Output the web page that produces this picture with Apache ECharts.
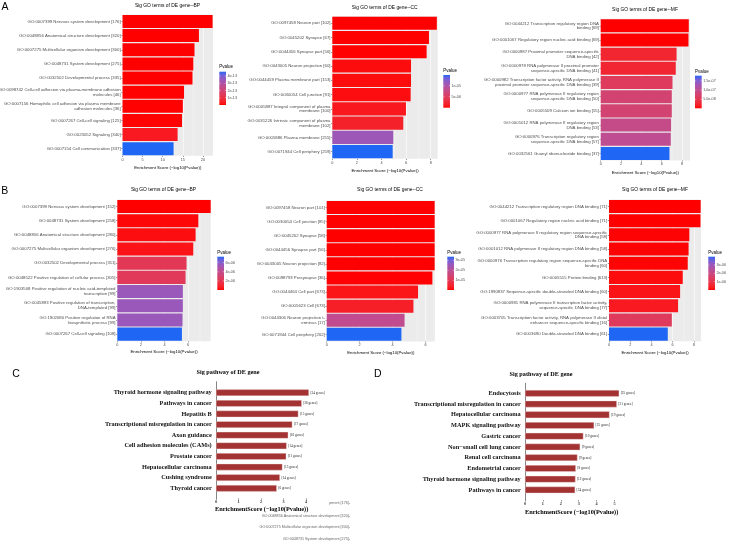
<!DOCTYPE html>
<html><head><meta charset="utf-8">
<script src="https://cdn.jsdelivr.net/npm/echarts@6/dist/echarts.min.js"></script>
<style>html,body{margin:0;padding:0;background:#fff}#c{width:729px;height:549px}</style>
</head><body><div id="c"></div>
<script>
// ---------------- DATA ----------------
const aBpTerms = [
  'GO:0007399 Nervous system development [176]',
  'GO:0048856 Anatomical structure development [320]',
  'GO:0007275 Multicellular organism development [300]',
  'GO:0048731 System development [275]',
  'GO:0032502 Developmental process [335]',
  'GO:0098742 Cell-cell adhesion via plasma-membrane adhesion\nmolecules [46]',
  'GO:0007156 Homophilic cell adhesion via plasma membrane\nadhesion molecules [36]',
  'GO:0007267 Cell-cell signaling [125]',
  'GO:0023052 Signaling [340]',
  'GO:0007154 Cell communication [337]'
];
const aBpScore = [22.4, 19.0, 17.9, 17.6, 17.4, 15.3, 15.0, 14.8, 13.7, 12.7];
const aBpP = [4e-23, 1e-19, 1.3e-18, 2.5e-18, 4e-18, 5e-16, 1e-15, 1.6e-15, 3.5e-14, 4.6e-13];
const aBpTicks = [0, 5, 10, 15, 20];
const aBpLegend = [4e-13, 3e-13, 2e-13, 1e-13];
const aBpLegendText = ['4e-13', '3e-13', '2e-13', '1e-13'];

const aCcTerms = [
  'GO:0097458 Neuron part [102]',
  'GO:0045202 Synapse [67]',
  'GO:0044456 Synapse part [56]',
  'GO:0043005 Neuron projection [60]',
  'GO:0044459 Plasma membrane part [153]',
  'GO:0030054 Cell junction [91]',
  'GO:0005887 Integral component of plasma\nmembrane [100]',
  'GO:0031226 Intrinsic component of plasma\nmembrane [102]',
  'GO:0005886 Plasma membrane [255]',
  'GO:0071944 Cell periphery [259]'
];
const aCcScore = [8.5, 7.86, 7.67, 6.4, 6.4, 6.37, 5.99, 5.77, 4.96, 4.91];
const aCcP = [3e-9, 1.4e-8, 2.1e-8, 4e-7, 4e-7, 4.3e-7, 1.0e-6, 1.7e-6, 1.1e-5, 1.49e-5];
const aCcTicks = [0, 2, 4, 6, 8];
const aCcLegend = [1e-5, 5e-6];
const aCcLegendText = ['1e-05', '5e-06'];

const aMfTerms = [
  'GO:0044212 Transcription regulatory region DNA\nbinding [69]',
  'GO:0001067 Regulatory region nucleic acid binding [69]',
  'GO:0000987 Proximal promoter sequence-specific\nDNA binding [42]',
  'GO:0000978 RNA polymerase II proximal promoter\nsequence-specific DNA binding [41]',
  'GO:0000982 Transcription factor activity, RNA polymerase II\nproximal promoter sequence-specific DNA binding [39]',
  'GO:0000977 RNA polymerase II regulatory region\nsequence-specific DNA binding [50]',
  'GO:0005509 Calcium ion binding [55]',
  'GO:0001012 RNA polymerase II regulatory region\nDNA binding [53]',
  'GO:0000976 Transcription regulatory region\nsequence-specific DNA binding [57]',
  'GO:0032561 Guanyl ribonucleotide binding [37]'
];
const aMfScore = [8.66, 8.63, 7.46, 7.38, 7.06, 6.99, 6.99, 6.92, 6.89, 6.76];
const aMfP = [2.2e-9, 2.3e-9, 2.7e-8, 2.8e-8, 6.1e-8, 7.8e-8, 7.8e-8, 9.5e-8, 1.03e-7, 1.78e-7];
const aMfTicks = [0, 2, 4, 6, 8];
const aMfLegend = [1.5e-7, 1.0e-7, 5.0e-8];
const aMfLegendText = ['1.5e-07', '1.0e-07', '5.0e-08'];

const bBpTerms = [
  'GO:0007399 Nervous system development [152]',
  'GO:0048731 System development [258]',
  'GO:0048856 Anatomical structure development [280]',
  'GO:0007275 Multicellular organism development [276]',
  'GO:0032502 Developmental process [311]',
  'GO:0048522 Positive regulation of cellular process [305]',
  'GO:1903508 Positive regulation of nucleic acid-templated\ntranscription [99]',
  'GO:0045893 Positive regulation of transcription,\nDNA-templated [99]',
  'GO:1902680 Positive regulation of RNA\nbiosynthetic process [99]',
  'GO:0007267 Cell-cell signaling [108]'
];
const bBpScore = [7.93, 6.87, 6.64, 6.44, 5.87, 5.79, 5.56, 5.56, 5.53, 5.48];
const bBpP = [1.2e-8, 1.3e-7, 2.3e-7, 3.6e-7, 2.2e-6, 2.3e-6, 5.5e-6, 5.5e-6, 5.5e-6, 7.3e-6];
const bBpTicks = [0, 2, 4, 6];
const bBpLegend = [6e-6, 4e-6, 2e-6];
const bBpLegendText = ['6e-06', '4e-06', '2e-06'];

const bCcTerms = [
  'GO:0097458 Neuron part [101]',
  'GO:0030054 Cell junction [85]',
  'GO:0045202 Synapse [58]',
  'GO:0044456 Synapse part [56]',
  'GO:0043005 Neuron projection [82]',
  'GO:0098793 Presynapse [36]',
  'GO:0044464 Cell part [673]',
  'GO:0005623 Cell [673]',
  'GO:0044306 Neuron projection t-\nerminus [17]',
  'GO:0071944 Cell periphery [262]'
];
const bCcScore = [6.56, 6.56, 6.56, 6.56, 6.56, 6.42, 5.55, 5.27, 4.73, 4.54];
const bCcP = [2.8e-7, 2.8e-7, 2.8e-7, 2.8e-7, 2.8e-7, 3.8e-7, 2.0e-6, 3.7e-6, 1.9e-5, 3.38e-5];
const bCcTicks = [0, 2, 4, 6];
const bCcLegend = [3e-5, 2e-5, 1e-5];
const bCcLegendText = ['3e-05', '2e-05', '1e-05'];

const bMfTerms = [
  'GO:0044212 Transcription regulatory region DNA binding [71]',
  'GO:0001067 Regulatory region nucleic acid binding [71]',
  'GO:0000977 RNA polymerase II regulatory region sequence-specific\nDNA binding [58]',
  'GO:0001012 RNA polymerase II regulatory region DNA binding [58]',
  'GO:0000976 Transcription regulatory region sequence-specific DNA\nbinding [60]',
  'GO:0005515 Protein binding [613]',
  'GO:1990837 Sequence-specific double-stranded DNA binding [60]',
  'GO:0000981 RNA polymerase II transcription factor activity,\nsequence-specific DNA binding [77]',
  'GO:0003705 Transcription factor activity, RNA polymerase II distal\nenhancer sequence-specific binding [16]',
  'GO:0003690 Double-stranded DNA binding [61]'
];
const bMfScore = [8.64, 8.62, 7.57, 7.5, 7.42, 6.95, 6.7, 6.51, 5.92, 5.54];
const bMfP = [2.3e-9, 2.4e-9, 2.7e-8, 3.2e-8, 3.8e-8, 1.1e-7, 2.0e-7, 3.1e-7, 1.3e-6, 4.0e-6];
const bMfTicks = [0, 2, 4, 6, 8];
const bMfLegend = [3e-6, 2e-6, 1e-6];
const bMfLegendText = ['3e-06', '2e-06', '1e-06'];

const cNames = ['Thyroid hormone signaling pathway', 'Pathways in cancer', 'Hepatitis B',
  'Transcriptional misregulation in cancer', 'Axon guidance', 'Cell adhesion molecules (CAMs)',
  'Prostate cancer', 'Hepatocellular carcinoma', 'Cushing syndrome', 'Thyroid cancer'];
const cScore = [4.13, 3.81, 3.66, 3.39, 3.21, 3.14, 3.12, 2.95, 2.84, 2.70];
const cGenes = [34, 36, 15, 17, 16, 14, 11, 15, 14, 6];
const cTicks = [0, 1, 2, 3, 4];

const dNames = ['Endocytosis', 'Transcriptional misregulation in cancer', 'Hepatocellular carcinoma',
  'MAPK signaling pathway', 'Gastric cancer', 'Non\u2212small cell lung cancer', 'Renal cell carcinoma',
  'Endometrial cancer', 'Thyroid hormone signaling pathway', 'Pathways in cancer'];
const dScore = [5.26, 5.13, 4.72, 3.86, 3.26, 3.08, 2.93, 2.84, 2.82, 2.80];
const dGenes = [25, 21, 19, 25, 10, 9, 9, 8, 12, 34];
const dTicks = [0, 1, 2, 3, 4, 5];

const strayTexts = ['pment [176]-', 'GO:0048856 Anatomical structure development [320]-',
  'GO:0007275 Multicellular organism development [300]-', 'GO:0048731 System development [275]-'];

// ---------------- STYLE / HELPERS ----------------
const SANS = '"Liberation Sans", Arial, sans-serif';
const SERIF = '"Liberation Serif", "Times New Roman", serif';
const LOW = '#FF0000', HIGH = '#1F66F4';
function hex2rgb(h){return [1,3,5].map(i=>parseInt(h.substr(i,2),16));}
function lin(c){c/=255;return c<=0.04045?c/12.92:Math.pow((c+0.055)/1.055,2.4);}
function unlin(c){c=c<=0.0031308?12.92*c:1.055*Math.pow(c,1/2.4)-0.055;return Math.round(Math.min(1,Math.max(0,c))*255);}
const Xn=0.95047,Yn=1,Zn=1.08883;
function ff(t){return t>0.008856?Math.cbrt(t):7.787*t+16/116;}
function fi(t){return t>0.206893?t*t*t:(t-16/116)/7.787;}
function rgb2lab(rgb){const [r,g,b]=rgb.map(lin);const X=0.4124*r+0.3576*g+0.1805*b,Y=0.2126*r+0.7152*g+0.0722*b,Z=0.0193*r+0.1192*g+0.9505*b;const fx=ff(X/Xn),fy=ff(Y/Yn),fz=ff(Z/Zn);return [116*fy-16,500*(fx-fy),200*(fy-fz)];}
function lab2rgb(l){const fy=(l[0]+16)/116,fx=fy+l[1]/500,fz=fy-l[2]/200;const X=Xn*fi(fx),Y=Yn*fi(fy),Z=Zn*fi(fz);const r=3.2406*X-1.5372*Y-0.4986*Z,g=-0.9689*X+1.8758*Y+0.0415*Z,b=0.0557*X-0.2040*Y+1.0570*Z;return 'rgb('+unlin(r)+','+unlin(g)+','+unlin(b)+')';}
const LLO=rgb2lab(hex2rgb(LOW)), LHI=rgb2lab(hex2rgb(HIGH));
function grad(t){t=Math.max(0,Math.min(1,t));return lab2rgb(LLO.map((v,i)=>v+(LHI[i]-v)*t));}

const grids=[], xAxes=[], yAxes=[], series=[], graphics=[];
function txt(x,y,text,size,opts){
  opts=opts||{};
  graphics.push({type:'text',x:x,y:y,silent:true,style:Object.assign({text:text,fontSize:size,fontFamily:opts.family||SANS,fontWeight:opts.weight||'normal',fill:opts.fill||'#000',align:opts.align||'left',verticalAlign:'middle',textAlign:opts.align||'left',textVerticalAlign:'middle'},{})});
}

function goPanel(P){
  const idx=grids.length;
  const pmin=Math.min(...P.p), pmax=Math.max(...P.p);
  grids.push({left:P.g[0],top:P.g[1],width:P.g[2],height:P.g[3],show:true,backgroundColor:'#EBEBEB',borderWidth:0,containLabel:false,outerBoundsMode:'none'});
  xAxes.push({gridIndex:idx,type:'value',min:0,max:P.max,
    name:'Enrichment Score (\u2212log10(Pvalue))',nameLocation:'middle',nameGap:P.nameGap,
    nameTextStyle:{fontFamily:SANS,fontSize:4.3,color:'#000'},
    axisLine:{show:false},
    axisTick:{show:true,length:1.2,lineStyle:{color:'#333',width:0.5},customValues:P.ticks},
    axisLabel:{customValues:P.ticks,fontFamily:SANS,fontSize:3.8,color:'#4D4D4D',margin:1.8},
    splitLine:{show:true,lineStyle:{color:'#fff',width:0.6}},
    minorTick:{show:false,splitNumber:2},
    minorSplitLine:{show:true,lineStyle:{color:'#fff',width:0.3}}});
  yAxes.push({gridIndex:idx,type:'category',inverse:true,data:P.terms,
    axisLine:{show:false},
    axisTick:{show:true,alignWithLabel:true,length:1.2,lineStyle:{color:'#333',width:0.5}},
    axisLabel:{interval:0,fontFamily:SANS,fontSize:4.3,lineHeight:4.9,color:'#4D4D4D',margin:1.8,align:'right'},
    splitLine:{show:false}});
  series.push({type:'bar',xAxisIndex:idx,yAxisIndex:idx,barCategoryGap:'8%',silent:true,
    data:P.score.map((v,i)=>({value:v,itemStyle:{color:grad((P.p[i]-pmin)/(pmax-pmin))}}))});
  // title
  txt(P.title[0],P.title[1],'Sig GO terms of DE gene--'+P.kind,4.9,{align:'center'});
  // legend colourbar
  const L=P.leg, w=6.7;
  txt(L.x,L.ty,'Pvalue',4.5);
  const stops=[];
  for(let k=0;k<=20;k++){stops.push({offset:k/20,color:grad(1-k/20)});}
  graphics.push({type:'rect',silent:true,shape:{x:L.x,y:L.top,width:w,height:L.bottom-L.top},
    style:{fill:{type:'linear',x:0,y:0,x2:0,y2:1,colorStops:stops}}});
  P.legVals.forEach((v,i)=>{
    const y=L.bottom-(v-pmin)/(pmax-pmin)*(L.bottom-L.top);
    graphics.push({type:'line',silent:true,shape:{x1:L.x,y1:y,x2:L.x+1.3,y2:y},style:{stroke:'#fff',lineWidth:0.4}});
    graphics.push({type:'line',silent:true,shape:{x1:L.x+w-1.3,y1:y,x2:L.x+w,y2:y},style:{stroke:'#fff',lineWidth:0.4}});
    txt(L.x+w+1.5,y,P.legText[i],3.7,{fill:'#4D4D4D'});
  });
}

function pathPanel(P){
  const idx=grids.length;
  grids.push({left:P.g[0],top:P.g[1],width:P.g[2],height:P.g[3],show:false,containLabel:false,outerBoundsMode:'none'});
  xAxes.push({gridIndex:idx,type:'value',min:0,max:P.max,offset:P.offset,
    axisLine:{show:false},
    axisTick:{show:true,length:1.5,lineStyle:{color:'#333',width:0.5},customValues:P.ticks},
    axisLabel:{customValues:P.ticks,fontFamily:SERIF,fontWeight:'bold',fontSize:4.2,color:'#333',margin:1.6},
    splitLine:{show:false}});
  yAxes.push({gridIndex:idx,type:'category',inverse:true,data:P.names,
    axisLine:{show:false},axisTick:{show:false},
    axisLabel:{interval:0,fontFamily:SERIF,fontWeight:'bold',fontSize:6.3,color:'#111',margin:4.3},
    splitLine:{show:false}});
  series.push({type:'bar',xAxisIndex:idx,yAxisIndex:idx,barCategoryGap:'38%',silent:true,data:P.score,
    itemStyle:{color:'#A33232',borderColor:'#f2dede',borderWidth:0.4},
    label:{show:true,position:'right',distance:1.5,formatter:p=>'['+P.genes[p.dataIndex]+' genes]',
      fontFamily:SERIF,fontSize:3.4,color:'#222'}});
  // separate axis carrying the longer vertical axis line
  const j=grids.length;
  grids.push({left:P.g[0],top:P.axisTop,width:10,height:P.axisBottom-P.axisTop,show:false,containLabel:false,outerBoundsMode:'none'});
  xAxes.push({gridIndex:j,type:'value',show:false});
  yAxes.push({gridIndex:j,type:'value',axisLine:{show:true,onZero:false,lineStyle:{color:'#333',width:0.6}},
    axisTick:{show:false},axisLabel:{show:false},splitLine:{show:false}});
  txt(P.title[0],P.title[1],'Sig pathway of DE gene',6.2,{align:'center',family:SERIF,weight:'bold'});
  txt(P.xt[0],P.xt[1],'EnrichmentScore (\u2212log10(Pvalue))',6.3,{align:'center',family:SERIF,weight:'bold'});
}

goPanel({kind:'BP',terms:aBpTerms,score:aBpScore,p:aBpP,ticks:aBpTicks,g:[122.5,14.4,90.5,141.4],max:22.5,nameGap:10.4,
  title:[167.5,5.2],leg:{x:219.3,ty:66.7,top:71.7,bottom:105},legVals:aBpLegend,legText:aBpLegendText});
goPanel({kind:'CC',terms:aCcTerms,score:aCcScore,p:aCcP,ticks:aCcTicks,g:[332.3,16.1,105.4,142.7],max:8.57,nameGap:10,
  title:[384.7,7.3],leg:{x:443.3,ty:71,top:75,bottom:107.7},legVals:aCcLegend,legText:aCcLegendText});
goPanel({kind:'MF',terms:aMfTerms,score:aMfScore,p:aMfP,ticks:aMfTicks,g:[600.7,18.7,89.3,141.8],max:8.78,nameGap:10.7,
  title:[645,9.3],leg:{x:695,ty:72,top:75.7,bottom:108.3},legVals:aMfLegend,legText:aMfLegendText});
goPanel({kind:'BP',terms:bBpTerms,score:bBpScore,p:bBpP,ticks:bBpTicks,g:[117.3,199.4,93.4,141.8],max:7.92,nameGap:8.4,
  title:[163.5,190],leg:{x:217.3,ty:252.7,top:256.7,bottom:290},legVals:bBpLegend,legText:bBpLegendText});
goPanel({kind:'CC',terms:bCcTerms,score:bCcScore,p:bCcP,ticks:bCcTicks,g:[326.7,200.4,108.3,141],max:6.58,nameGap:9.5,
  title:[390,190],leg:{x:447.3,ty:252.7,top:256.7,bottom:290},legVals:bCcLegend,legText:bCcLegendText});
goPanel({kind:'MF',terms:bMfTerms,score:bMfScore,p:bMfP,ticks:bMfTicks,g:[609,199.4,92,141.8],max:8.67,nameGap:9.7,
  title:[655,190],leg:{x:708.3,ty:252.7,top:256.7,bottom:290},legVals:bMfLegend,legText:bMfLegendText});

pathPanel({names:cNames,score:cScore,genes:cGenes,ticks:cTicks,g:[216,387.4,99,106.2],max:4.4,offset:4.7,
  axisTop:381.7,axisBottom:498.3,title:[228,372.7],xt:[261.7,509.3]});
pathPanel({names:dNames,score:dScore,genes:dGenes,ticks:dTicks,g:[525,387.9,98.45,107.4],max:5.5,offset:4.7,
  axisTop:383.3,axisBottom:500,title:[541,374.3],xt:[571.7,512.3]});

// panel letters
txt(1.5,7.5,'A',10.5); txt(1.2,191.5,'B',10.5); txt(12.2,374,'C',10.5); txt(374,374.2,'D',10.5);
// stray overlapping labels under panel C
txt(350,502.7,strayTexts[0],3.7,{align:'right',fill:'#666'});
txt(350,515.7,strayTexts[1],3.7,{align:'right',fill:'#666'});
txt(350,527.3,strayTexts[2],3.7,{align:'right',fill:'#666'});
txt(350,539.3,strayTexts[3],3.7,{align:'right',fill:'#666'});

const chart=echarts.init(document.getElementById('c'),null,{renderer:'canvas'});
chart.setOption({animation:false,backgroundColor:'#fff',grid:grids,xAxis:xAxes,yAxis:yAxes,series:series,graphic:{elements:graphics}});
</script></body></html>
